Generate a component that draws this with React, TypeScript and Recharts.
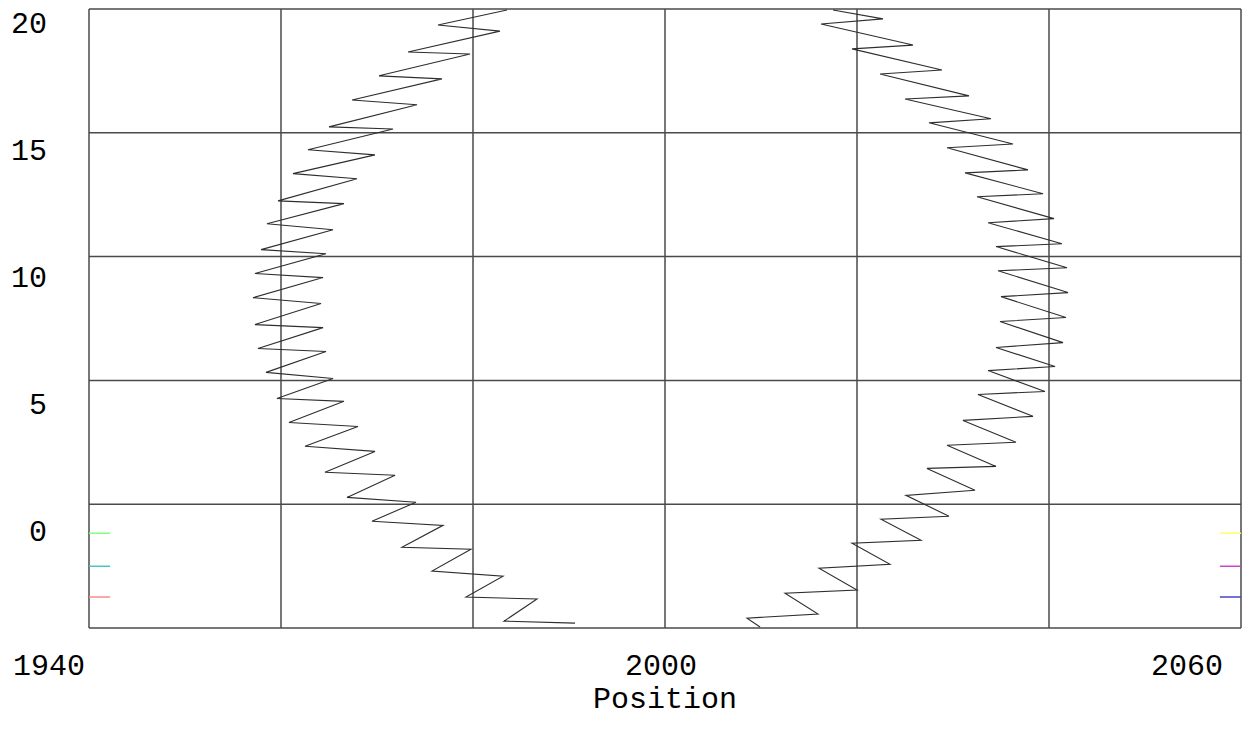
import { LineChart, Line, XAxis, YAxis, CartesianGrid } from "recharts";

// left branch, points in drawing order
const leftX = [
  1983.54, 1976.35, 1982.81, 1973.23, 1979.69, 1970.21, 1976.77, 1967.4, 1974.17, 1965.0,
  1971.67, 1962.81, 1969.79, 1961.25, 1967.92, 1959.69, 1966.56, 1958.54, 1965.42, 1957.92,
  1964.69, 1957.29, 1964.38, 1957.08, 1964.17, 1957.29, 1964.38, 1957.6, 1964.69, 1958.44,
  1965.42, 1959.58, 1966.56, 1960.83, 1968.02, 1962.5, 1969.79, 1964.58, 1971.88, 1966.88,
  1974.06, 1969.48, 1976.88, 1972.6, 1979.79, 1975.73, 1983.13, 1979.27, 1986.67, 1983.23,
  1990.63,
];
const leftY = [
  20.59, 20.0, 19.76, 18.94, 18.86, 18.0, 17.88, 17.05, 16.86, 15.99,
  15.91, 15.09, 14.89, 14.15, 13.95, 13.08, 12.97, 12.18, 11.94, 11.16,
  11.0, 10.22, 10.06, 9.27, 9.04, 8.21, 8.09, 7.27, 7.15, 6.33,
  6.09, 5.3, 5.19, 4.36, 4.2, 3.42, 3.22, 2.4, 2.28, 1.41,
  1.22, 0.47, 0.31, -0.55, -0.63, -1.49, -1.69, -2.51, -2.59, -3.46,
  -3.54,
];

// right branch
const rightX = [
  2017.5, 2022.71, 2016.25, 2025.83, 2019.48, 2028.85, 2022.4, 2031.67, 2025.0, 2033.96,
  2027.5, 2036.25, 2029.38, 2037.81, 2031.25, 2039.38, 2032.5, 2040.52, 2033.65, 2041.35,
  2034.48, 2041.88, 2034.69, 2041.98, 2035.0, 2041.77, 2034.9, 2041.46, 2034.48, 2040.63,
  2033.65, 2039.58, 2032.6, 2038.33, 2031.04, 2036.56, 2029.38, 2034.48, 2027.29, 2032.29,
  2025.1, 2029.58, 2022.5, 2026.67, 2019.48, 2023.44, 2016.04, 2020.0, 2012.5, 2015.94,
  2008.54, 2009.9,
];
const rightY = [
  20.59, 20.24, 20.04, 19.21, 19.06, 18.23, 18.07, 17.21, 17.09, 16.31,
  16.15, 15.32, 15.17, 14.3, 14.18, 13.36, 13.24, 12.38, 12.22, 11.39,
  11.28, 10.45, 10.33, 9.47, 9.31, 8.49, 8.33, 7.5, 7.31, 6.56,
  6.4, 5.58, 5.46, 4.6, 4.44, 3.58, 3.46, 2.63, 2.55, 1.69,
  1.49, 0.67, 0.55, -0.28, -0.39, -1.22, -1.38, -2.24, -2.36, -3.18,
  -3.34, -3.69,
];

// short coloured key marks at the plot edges
const markLevels = [0, -1.3, -2.51];
const leftMarkX = [1940, 1942.2];
const rightMarkX = [2057.8, 2060];
const leftMarkColors = ["#80ff80", "#4cc4c4", "#ff8a8a"];
const rightMarkColors = ["#ffff66", "#cc44cc", "#4444cc"];

const xTicks = [1940, 1960, 1980, 2000, 2020, 2040, 2060];
const xLabels = [1940, 2000, 2060];
const yTicks = [0, 5, 10, 15, 20];
const yDomain: [number, number] = [-3.73, 20.63];
const gridTicks = [0, 1, 2, 3, 4, 5].map((i) => yDomain[0] + (i * (yDomain[1] - yDomain[0])) / 5);

const FONT = "'Liberation Mono', monospace";

const toPoints = (xs: number[], ys: number[]) => xs.map((x, i) => ({ x, y: ys[i] }));

const XTick = (props: any) => {
  const { x, y, payload } = props;
  const v = payload.value;
  if (!xLabels.includes(v)) return <g />;
  const anchor = v === 2000 ? "middle" : "end";
  return (
    <text x={x - 4} y={y + 47} textAnchor={anchor} fontFamily={FONT} fontSize={30} fill="#000">
      {v}
    </text>
  );
};

export default function App() {
  return (
    <LineChart width={1235} height={730} margin={{ top: 1, right: 2, bottom: 0, left: 0 }}>
      <CartesianGrid yAxisId="grid" stroke="#4a4a4a" strokeWidth={1.5} />
      <XAxis
        type="number"
        dataKey="x"
        domain={[1940, 2060]}
        allowDataOverflow
        ticks={xTicks}
        height={110}
        axisLine={false}
        tickLine={false}
        tickSize={0}
        tickMargin={0}
        tick={<XTick />}
        label={{ value: "Position", position: "insideTop", offset: 59, fontFamily: FONT, fontSize: 30, fill: "#000" }}
      />
      <YAxis
        type="number"
        dataKey="y"
        domain={yDomain}
        allowDataOverflow
        ticks={yTicks}
        width={81}
        axisLine={false}
        tickLine={false}
        tickSize={0}
        tickMargin={42}
        tick={{ fontFamily: FONT, fontSize: 30, fill: "#000", dy: -3 }}
      />
      <YAxis yAxisId="grid" type="number" domain={yDomain} allowDataOverflow ticks={gridTicks} hide />
      <Line data={toPoints(leftX, leftY)} dataKey="y" stroke="#2e2e2e" strokeWidth={1.1} dot={false} activeDot={false} isAnimationActive={false} />
      <Line data={toPoints(rightX, rightY)} dataKey="y" stroke="#2e2e2e" strokeWidth={1.1} dot={false} activeDot={false} isAnimationActive={false} />
      {markLevels.map((lv, i) => (
        <Line
          key={"l" + i}
          data={toPoints(leftMarkX, [lv, lv])}
          dataKey="y"
          stroke={leftMarkColors[i]}
          strokeWidth={1.5}
          dot={false}
          activeDot={false}
          isAnimationActive={false}
        />
      ))}
      {markLevels.map((lv, i) => (
        <Line
          key={"r" + i}
          data={toPoints(rightMarkX, [lv, lv])}
          dataKey="y"
          stroke={rightMarkColors[i]}
          strokeWidth={1.5}
          dot={false}
          activeDot={false}
          isAnimationActive={false}
        />
      ))}
    </LineChart>
  );
}
